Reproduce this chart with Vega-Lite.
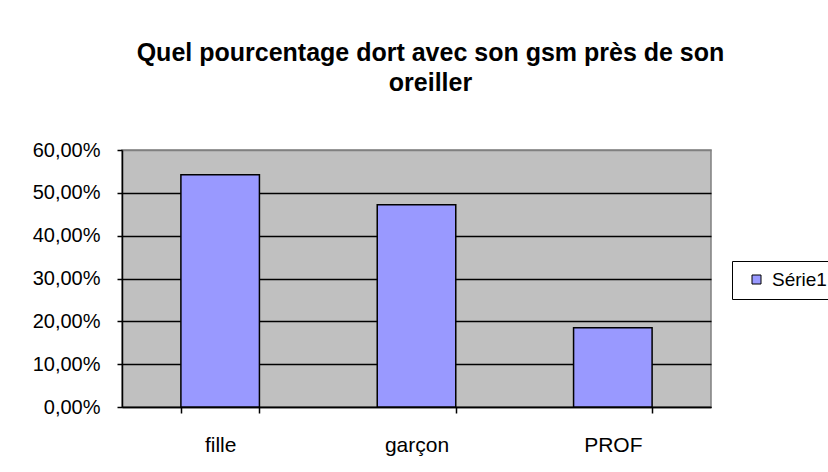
{
  "$schema": "https://vega.github.io/schema/vega-lite/v6.json",
  "autosize": {"type": "none"},
  "width": 589,
  "height": 257,
  "padding": {"left": 122, "top": 150, "right": 117, "bottom": 65},
  "background": "white",
  "config": {
    "locale": {"number": {"decimal": ",", "thousands": " ", "grouping": [3], "currency": ["", " €"], "percent": "%"}},
    "view": {"fill": "#C0C0C0", "stroke": "#808080", "strokeWidth": 1.5},
    "font": "Liberation Sans"
  },
  "title": {
    "text": ["Quel pourcentage  dort avec son gsm près de son", "oreiller"],
    "fontSize": 25,
    "fontWeight": "bold",
    "font": "Liberation Sans",
    "color": "black",
    "lineHeight": 30,
    "offset": 44,
    "dx": 14,
    "anchor": "middle"
  },
  "data": {
    "values": [
      {"categorie": "fille", "pourcentage": 0.542, "serie": "Série1"},
      {"categorie": "garçon", "pourcentage": 0.472, "serie": "Série1"},
      {"categorie": "PROF", "pourcentage": 0.185, "serie": "Série1"}
    ]
  },
  "mark": {"type": "bar", "stroke": "black", "strokeWidth": 1.5},
  "encoding": {
    "x": {
      "field": "categorie",
      "type": "nominal",
      "sort": null,
      "scale": {"paddingInner": 0.6, "paddingOuter": 0.3},
      "axis": {
        "title": null,
        "labelAngle": 0,
        "labelFontSize": 21,
        "labelColor": "black",
        "labelPadding": 21,
        "domainColor": "black",
        "domainWidth": 1.5,
        "tickColor": "black",
        "tickSize": 6,
        "tickWidth": 1.5,
        "tickBand": "extent",
        "grid": false
      }
    },
    "y": {
      "field": "pourcentage",
      "type": "quantitative",
      "scale": {"domain": [0, 0.6]},
      "axis": {
        "title": null,
        "format": ".2%",
        "values": [0, 0.1, 0.2, 0.3, 0.4, 0.5, 0.6],
        "grid": true,
        "gridColor": {"condition": {"test": "datum.value >= 0.6", "value": "#808080"}, "value": "black"},
        "gridWidth": 1.5,
        "gridOpacity": 1,
        "labelFontSize": 20,
        "labelColor": "black",
        "labelPadding": 17,
        "tickSize": 5,
        "tickColor": "black",
        "tickWidth": 1.5,
        "domainColor": "black",
        "domainWidth": 1.5
      }
    },
    "color": {
      "field": "serie",
      "type": "nominal",
      "scale": {"range": ["#9999FF"]},
      "legend": {
        "title": null,
        "orient": "none",
        "legendX": 610,
        "legendY": 111,
        "strokeColor": "black",
        "fillColor": "white",
        "padding": 9,
        "symbolType": "square",
        "symbolSize": 81,
        "symbolStrokeColor": "black",
        "symbolStrokeWidth": 1,
        "symbolFillColor": "#9999FF",
        "symbolOffset": 6,
        "labelOffset": 6,
        "labelFontSize": 19,
        "labelColor": "black",
        "labelLimit": 300
      }
    }
  }
}
